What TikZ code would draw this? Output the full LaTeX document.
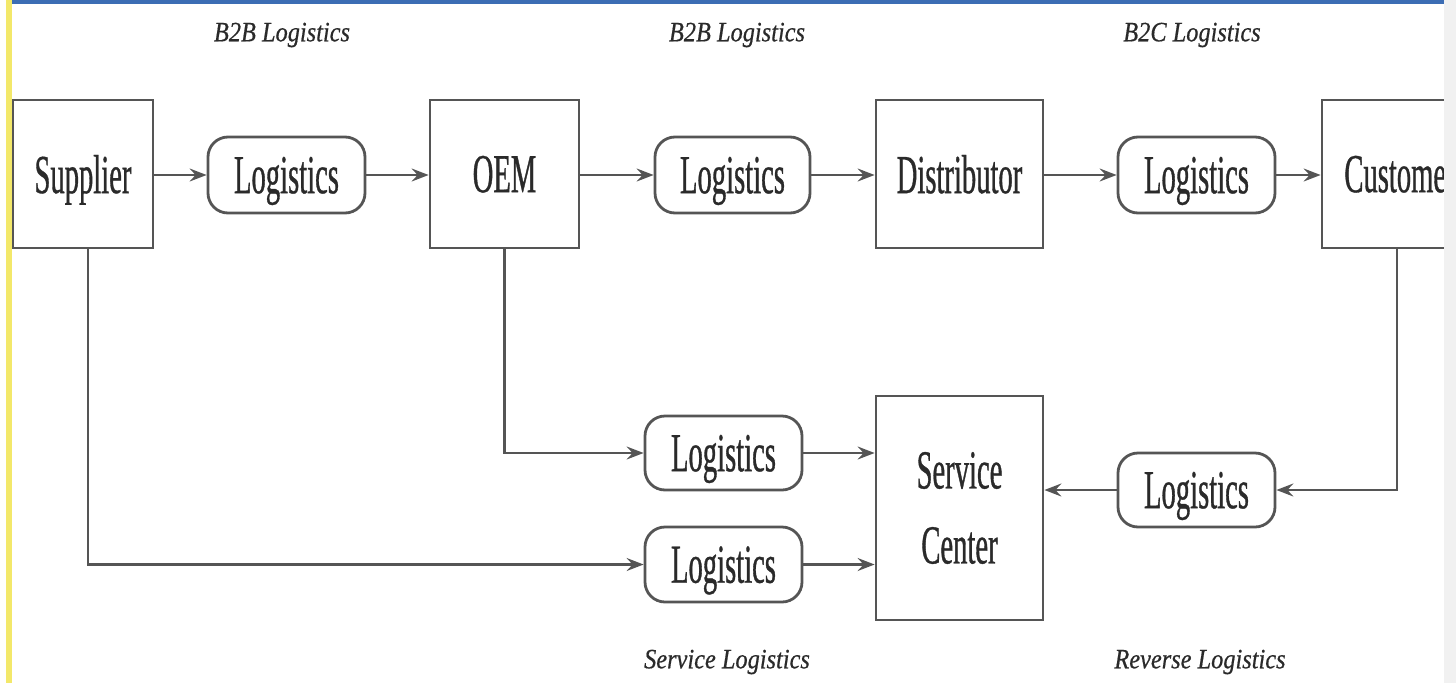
\documentclass[tikz,border=0pt]{standalone}
\usepackage{fontspec}
\setmainfont{Liberation Serif}
\newfontfamily\condfont{Liberation Serif}[FakeStretch=0.52,FakeBold=0.6]
\newfontfamily\labfont{Liberation Serif}[FakeStretch=0.87,FakeBold=0.5]
\usetikzlibrary{arrows.meta}
\definecolor{linegray}{HTML}{555555}
\definecolor{txtgray}{HTML}{2A2A2A}
\definecolor{topblue}{HTML}{3C6DB4}
\definecolor{sideyellow}{HTML}{F3E86A}
\definecolor{stripgray}{HTML}{F1F1F1}
\tikzset{
  block/.style={draw=linegray, line width=2.8pt, fill=white, inner sep=0pt,
    text=txtgray, font=\condfont\fontsize{55}{75}\selectfont, align=center},
  oneline/.style={text depth=0pt},
  logbox/.style={block, oneline, rounded corners=20pt, minimum width=157pt, minimum height=76pt},
  arr/.style={draw=linegray, line width=2.2pt, -{Stealth[length=17pt,width=13pt,inset=6pt]}},
  lab/.style={text=txtgray, font=\labfont\itshape\fontsize{28}{32}\selectfont, inner sep=0pt}
}
\begin{document}
\begin{tikzpicture}[x=1pt,y=-1pt]
\useasboundingbox (0,0) rectangle (1456,683);
\fill[white] (0,0) rectangle (1456,683);
\begin{scope}
\clip (0,0) rectangle (1444,683);
\node[block, oneline, minimum width=140pt, minimum height=148pt] (sup) at (83,174) {Supplier};
\node[logbox] (l1) at (286.5,175) {Logistics};
\node[block, oneline, minimum width=149pt, minimum height=148pt] (oem) at (504.5,174) {OEM};
\node[logbox, minimum width=155pt] (l2) at (732.5,175) {Logistics};
\node[block, oneline, minimum width=167pt, minimum height=148pt] (dist) at (959.5,174) {Distributor};
\node[logbox] (l3) at (1196.5,175) {Logistics};
\node[block, oneline, minimum width=156pt, minimum height=148pt] (cust) at (1400,174) {Customer};
\node[block, minimum width=167pt, minimum height=224pt] (sc) at (959.5,508) {Service\\Center};
\node[logbox, minimum height=74pt] (l4) at (723.5,453) {Logistics};
\node[logbox, minimum height=75pt] (l5) at (723.5,564.5) {Logistics};
\node[logbox, minimum height=74pt] (l6) at (1196.5,490) {Logistics};

\draw[arr] (sup.east |- l1.west) -- (l1.west);
\draw[arr] (l1.east) -- (l1.east -| oem.west);
\draw[arr] (oem.east |- l2.west) -- (l2.west);
\draw[arr] (l2.east) -- (l2.east -| dist.west);
\draw[arr] (dist.east |- l3.west) -- (l3.west);
\draw[arr] (l3.east) -- (l3.east -| cust.west);

\draw[arr] (oem.south) |- (l4.west);
\draw[arr] (l4.east) -- (l4.east -| sc.west);
\draw[arr] ([xshift=5pt]sup.south) |- (l5.west);
\draw[arr] (l5.east) -- (l5.east -| sc.west);
\draw[arr] ([xshift=-3pt]cust.south) |- (l6.east);
\draw[arr] (l6.west) -- (l6.west -| sc.east);

\node[lab] (t1) at (282,35) {B2B Logistics};
\node[lab] (t2) at (737,35) {B2B Logistics};
\node[lab] (t3) at (1192,35) {B2C Logistics};
\node[lab] (t4) at (727,662) {Service Logistics};
\node[lab] (t5) at (1200,662) {Reverse Logistics};

\fill[topblue] (12,0) rectangle (1444,4);
\end{scope}
\fill[stripgray] (1444,0) rectangle (1456,683);
\fill[sideyellow] (6,0) rectangle (12,683);
\end{tikzpicture}
\end{document}
